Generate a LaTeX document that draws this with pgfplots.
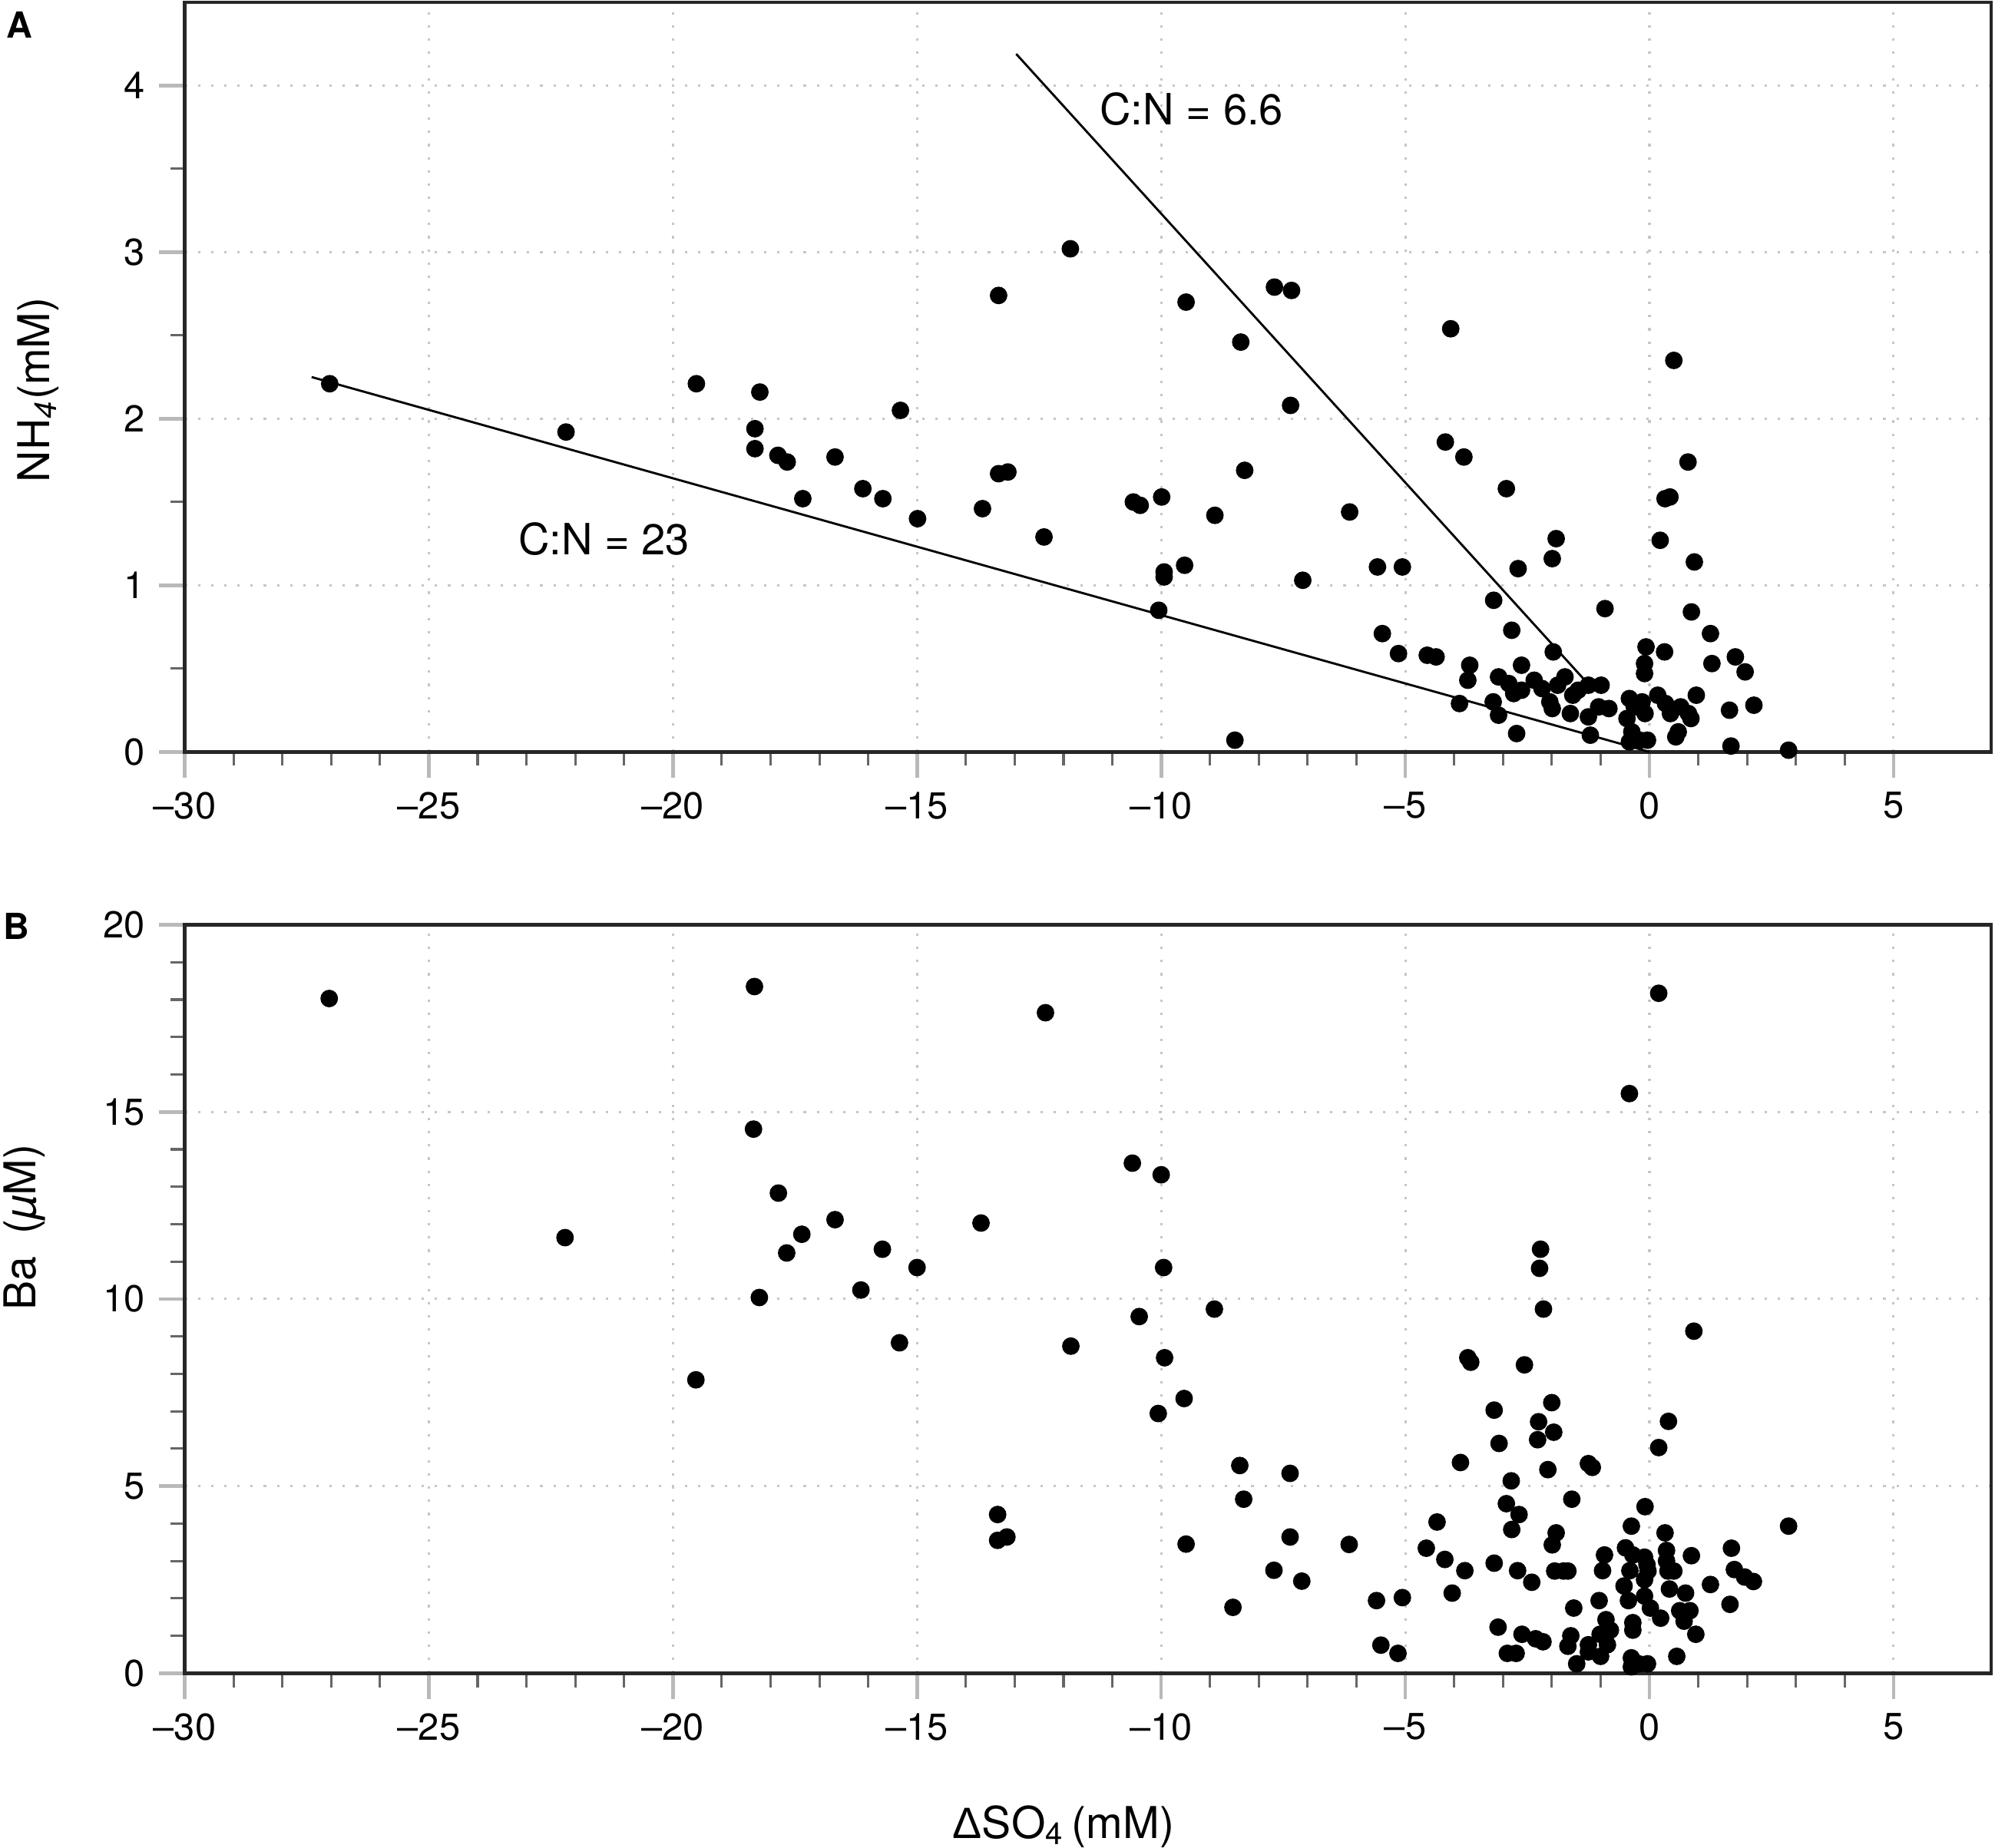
\documentclass[border=0pt]{standalone}
\usepackage{fontspec}
\setmainfont{TeX Gyre Heros}
\newfontfamily\grk{Liberation Sans}
\usepackage{pgfplots}
\pgfplotsset{compat=1.18}

\pgfplotstableread{
x y
-27.03 2.21
-22.19 1.92
-19.52 2.21
-18.22 2.16
-18.32 1.94
-18.32 1.82
-17.85 1.78
-17.66 1.74
-17.34 1.52
-16.68 1.77
-16.11 1.58
-15.70 1.52
-15.34 2.05
-14.99 1.40
-13.66 1.46
-13.33 2.74
-13.33 1.67
-13.14 1.68
-11.86 3.02
-9.49 2.70
-7.68 2.79
-7.33 2.77
-8.37 2.46
-4.07 2.54
-7.35 2.08
-4.18 1.86
-3.80 1.77
-12.40 1.29
-10.57 1.50
-10.43 1.48
-9.99 1.53
-8.29 1.69
-8.90 1.42
-6.14 1.44
-9.94 1.08
-9.94 1.05
-9.52 1.12
-7.10 1.03
-5.57 1.11
-5.06 1.11
-10.05 0.85
-5.47 0.71
-5.14 0.59
-4.55 0.58
-4.37 0.57
-8.49 0.07
-3.89 0.29
-2.93 1.58
0.79 1.74
0.32 1.52
0.42 1.53
0.50 2.35
-1.91 1.28
-1.99 1.16
-2.69 1.10
0.22 1.27
0.92 1.14
-3.19 0.91
-0.91 0.86
0.86 0.84
-2.82 0.73
1.25 0.71
-1.97 0.60
-0.07 0.63
0.31 0.60
-3.68 0.52
-3.72 0.43
1.76 0.57
1.28 0.53
1.96 0.48
-0.10 0.53
-0.10 0.47
-2.62 0.52
-3.09 0.45
-3.20 0.30
-3.09 0.22
-2.72 0.11
-2.88 0.41
-2.78 0.35
-2.62 0.37
-2.36 0.43
-2.20 0.38
-2.04 0.30
-1.99 0.26
-1.88 0.40
-1.73 0.45
-1.57 0.34
-1.62 0.23
-1.46 0.37
-1.25 0.40
-0.99 0.40
-1.04 0.27
-1.25 0.21
-0.83 0.26
-1.21 0.10
-0.41 0.32
-0.31 0.27
-0.46 0.20
-0.36 0.12
-0.20 0.07
-0.04 0.07
-0.41 0.06
-0.09 0.23
-0.15 0.30
0.17 0.34
0.33 0.29
0.43 0.23
0.64 0.27
0.80 0.23
0.96 0.34
0.85 0.20
0.59 0.12
0.54 0.09
1.64 0.25
2.14 0.28
1.67 0.035
2.85 0.01
}\nhdata

\pgfplotstableread{
x y
-27.04 18.03
-22.21 11.64
-19.53 7.84
-18.33 18.35
-18.35 14.54
-18.23 10.04
-17.84 12.83
-17.67 11.23
-17.36 11.73
-16.68 12.12
-16.15 10.24
-15.71 11.33
-15.00 10.84
-15.36 8.83
-13.69 12.03
-13.35 4.24
-13.35 3.55
-13.16 3.64
-12.37 17.65
-11.85 8.74
-10.59 13.63
-10.00 13.32
-9.95 10.84
-10.45 9.53
-8.91 9.73
-9.93 8.43
-9.53 7.34
-10.06 6.94
-8.39 5.55
-8.31 4.65
-7.36 5.34
-9.49 3.45
-7.36 3.64
-6.15 3.44
-7.69 2.75
-7.12 2.46
-8.53 1.76
-5.59 1.94
-5.50 0.75
-2.23 11.33
-2.25 10.82
-2.17 9.73
0.91 9.14
-3.72 8.43
-3.66 8.31
-2.56 8.24
-2.00 7.23
-3.18 7.03
-2.27 6.72
-1.96 6.44
-2.29 6.24
-3.08 6.14
0.39 6.73
0.19 6.03
-3.87 5.63
-1.25 5.60
-1.17 5.50
-2.08 5.44
-2.83 5.14
-1.59 4.65
-2.93 4.53
-2.67 4.24
-2.82 3.84
-0.09 4.45
-4.35 4.04
-0.37 3.93
2.85 3.93
-4.57 3.34
-4.19 3.04
-3.78 2.74
-3.18 2.94
-4.04 2.14
-2.70 2.74
-2.41 2.43
-1.91 3.75
-1.99 3.43
-1.94 2.73
-1.76 2.73
-1.67 2.73
-5.06 2.02
-5.15 0.53
-3.10 1.23
-2.61 1.04
-2.33 0.92
-2.18 0.84
-2.91 0.53
-2.73 0.53
-1.55 1.74
-1.61 1.00
-1.67 0.72
-1.49 0.25
-1.25 0.76
-1.25 0.57
-1.03 1.94
-0.92 3.16
-0.96 2.74
-0.89 1.43
-0.80 1.15
-1.01 1.04
-0.86 0.76
-1.00 0.45
-0.49 3.35
-0.34 3.16
-0.40 2.74
-0.52 2.33
-0.43 1.94
-0.34 1.35
-0.34 1.15
-0.10 3.10
-0.05 2.90
-0.03 2.73
-0.10 2.50
-0.10 2.06
0.02 1.74
0.23 1.47
-0.37 0.41
-0.22 0.25
-0.04 0.25
-0.37 0.17
0.32 3.75
0.35 3.28
0.35 3.00
0.38 2.73
0.50 2.73
0.41 2.25
0.86 3.14
1.25 2.37
1.68 3.34
1.74 2.77
1.95 2.57
2.13 2.45
1.65 1.84
0.74 2.14
0.62 1.67
0.83 1.67
0.71 1.39
0.95 1.04
0.56 0.45
0.19 18.17
-0.41 15.49
}\badata

\begin{document}
\begin{tikzpicture}
\path[use as bounding box] (0,0) rectangle (500pt,463.05pt);
\pgfplotsset{
  common/.style={
    scale only axis, width=452.75pt,
    xmin=-30, xmax=7,
    xtick={-30,-25,...,5},
    xticklabels={\textendash30,\textendash25,\textendash20,\textendash15,\textendash10,\textendash5,0,5},
    minor x tick num=4,
    tick align=outside, tick pos=left,
    major tick length=6.5pt, minor tick length=3.5pt,
    major tick style={draw=gray!55, line width=0.9pt},
    minor tick style={draw=black!60, line width=0.6pt},
    grid=major,
    major grid style={draw=gray!45, line width=0.6pt, dash pattern=on 0.6pt off 2.7pt},
    axis line style={draw=black!85, line width=0.9pt},
    tick label style={font=\fontsize{9.4}{11}\selectfont},
    /pgf/number format/assume math mode=true,
    clip=false,
    label style={font=\fontsize{11}{13}\selectfont},
  },
  dots/.style={only marks, mark=*, mark size=2pt, black, mark options={fill=black, draw=black}},
}
\begin{axis}[common, height=187.9pt, at={(46.29pt,274.58pt)}, anchor=south west,
  ymin=0, ymax=4.5, ytick={0,1,2,3,4}, minor y tick num=1,
  ylabel={NH\textsubscript{\textit{4}}(mM)},
  ylabel style={at={(axis description cs:-0.081,0.483)}, anchor=center},
]
\addplot[black, line width=0.55pt] coordinates {(-27.4,2.25) (0,0)};
\addplot[black, line width=0.55pt] coordinates {(-12.97,4.19) (-1.2,0.39)};
\addplot[dots] table[x=x,y=y] {\nhdata};
\node[anchor=west, font=\fontsize{10.8}{13}\selectfont, inner sep=0] at (axis cs:-11.27,3.86) {C:N = 6.6};
\node[anchor=west, font=\fontsize{10.8}{13}\selectfont, inner sep=0] at (axis cs:-23.18,1.28) {C:N = 23};
\end{axis}
\begin{axis}[common, height=187.6pt, at={(46.29pt,43.63pt)}, anchor=south west,
  ymin=0, ymax=20, ytick={0,5,10,15,20}, minor y tick num=4,
  ylabel={Ba\hspace{0.5em}(\textit{µ}M)},
  ylabel style={at={(axis description cs:-0.0886,0.596)}, anchor=center},
  xlabel={{\grk Δ}SO\textsubscript{4}\,(mM)},
  xlabel style={at={(axis description cs:0.4865,-0.2203)}, anchor=base},
]
\addplot[dots] table[x=x,y=y] {\badata};
\end{axis}
\node[anchor=north west, inner sep=0, font=\bfseries\fontsize{9}{11}\selectfont] at (1.35pt,460.35pt) {A};
\node[anchor=north west, inner sep=0, font=\bfseries\fontsize{9}{11}\selectfont] at (0.58pt,234.4pt) {B};
\end{tikzpicture}
\end{document}
